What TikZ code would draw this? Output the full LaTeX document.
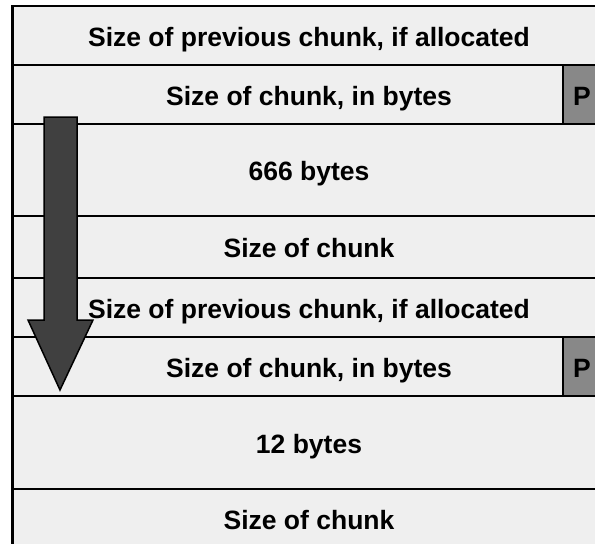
\documentclass[tikz,border=0pt]{standalone}
\usepackage{fontspec}
\setmainfont{Liberation Sans}
\definecolor{cellbg}{RGB}{239,239,239}
\definecolor{pboxfill}{RGB}{136,136,136}
\definecolor{arrowfill}{RGB}{64,64,64}
\begin{document}
\begin{tikzpicture}[x=1pt,y=-1pt,
  rowbox/.style={draw=black, line width=2pt, fill=cellbg, rectangle, anchor=north west,
    minimum width=592pt, inner sep=0pt, text height=21pt, text depth=0pt,
    font=\fontsize{26.5}{30}\selectfont\bfseries},
  pbit/.style={draw=black, line width=2pt, fill=pboxfill, rectangle, anchor=north west,
    minimum width=42pt, minimum height=59pt, inner sep=0pt, text height=21pt, text depth=0pt,
    font=\fontsize{26.5}{30}\selectfont\bfseries},
  bigarrow/.style={draw=black, line width=1.5pt, fill=arrowfill, line join=miter}]
\useasboundingbox (0,0) rectangle (595,544);
\clip (0,0) rectangle (595,544);
\node[rowbox, minimum height=59pt] (r1) at (12,5) {Size of previous chunk, if allocated};
\node[rowbox, minimum height=59pt] (r2) at (12,64) {Size of chunk, in bytes};
\node[rowbox, minimum height=92pt] (r3) at (12,123) {666 bytes};
\node[rowbox, minimum height=62pt] (r4) at (12,215) {Size of chunk};
\node[rowbox, minimum height=59pt] (r5) at (12,277) {Size of previous chunk, if allocated};
\node[rowbox, minimum height=59pt] (r6) at (12,336) {Size of chunk, in bytes};
\node[rowbox, minimum height=93pt] (r7) at (12,395) {12 bytes};
\node[rowbox, minimum height=60pt] (r8) at (12,488) {Size of chunk};
\node[pbit] (p1) at (562,64) {\hspace*{-4pt}P};
\node[pbit] (p2) at (562,336) {\hspace*{-4pt}P};
\draw[line width=3pt] (r1.north west) -- (r8.south west);
\draw[bigarrow] (44,117) -- (77,117) -- (77,320) -- (93,320) -- (60,390) -- (28,320) -- (44,320) -- cycle;
\end{tikzpicture}
\end{document}
